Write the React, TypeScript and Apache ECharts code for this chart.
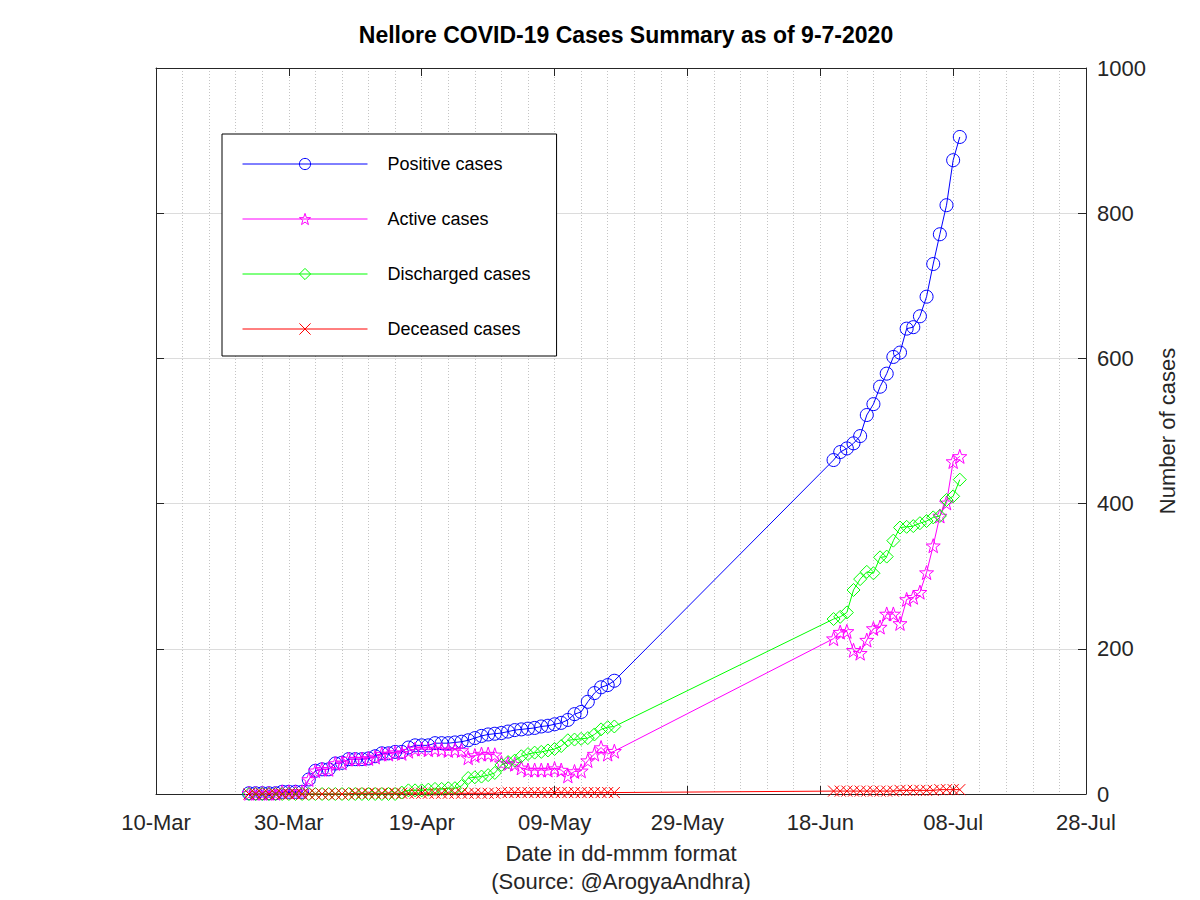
import React, { useEffect, useRef } from "react";
import * as echarts from "echarts";

// ---- Data ----
const dates: string[] = [
  // 24-Mar .. 18-May (daily)
  "2020-03-24", "2020-03-25", "2020-03-26", "2020-03-27", "2020-03-28", "2020-03-29", "2020-03-30", "2020-03-31",
  "2020-04-01", "2020-04-02", "2020-04-03", "2020-04-04", "2020-04-05", "2020-04-06", "2020-04-07", "2020-04-08", "2020-04-09", "2020-04-10",
  "2020-04-11", "2020-04-12", "2020-04-13", "2020-04-14", "2020-04-15", "2020-04-16", "2020-04-17", "2020-04-18", "2020-04-19", "2020-04-20",
  "2020-04-21", "2020-04-22", "2020-04-23", "2020-04-24", "2020-04-25", "2020-04-26", "2020-04-27", "2020-04-28", "2020-04-29", "2020-04-30",
  "2020-05-01", "2020-05-02", "2020-05-03", "2020-05-04", "2020-05-05", "2020-05-06", "2020-05-07", "2020-05-08", "2020-05-09", "2020-05-10",
  "2020-05-11", "2020-05-12", "2020-05-13", "2020-05-14", "2020-05-15", "2020-05-16", "2020-05-17", "2020-05-18",
  // 20-Jun .. 09-Jul (daily)
  "2020-06-20", "2020-06-21", "2020-06-22", "2020-06-23", "2020-06-24", "2020-06-25", "2020-06-26", "2020-06-27", "2020-06-28", "2020-06-29", "2020-06-30",
  "2020-07-01", "2020-07-02", "2020-07-03", "2020-07-04", "2020-07-05", "2020-07-06", "2020-07-07", "2020-07-08", "2020-07-09",
];

const positiveCases: number[] = [
  1, 1, 1, 1, 1, 3, 3, 3,
  3, 20, 32, 34, 34, 42, 43, 48, 48, 48,
  49, 52, 56, 56, 58, 58, 64, 67, 67, 67,
  70, 70, 70, 71, 72, 74, 77, 80, 82, 83,
  84, 86, 88, 89, 90, 91, 93, 94, 96, 98,
  102, 110, 113, 127, 139, 147, 150, 156,
  460, 471, 476, 483, 493, 522, 537, 561, 579, 602, 608,
  641, 643, 658, 685, 730, 771, 811, 873, 905,
];

const activeCases: number[] = [
  1, 1, 1, 1, 1, 3, 3, 3,
  3, 20, 32, 34, 34, 42, 43, 48, 48, 48,
  49, 51, 55, 55, 57, 56, 59, 62, 62, 61,
  62, 61, 60, 61, 60, 50, 53, 55, 55, 54,
  43, 42, 41, 36, 33, 33, 33, 33, 35, 33,
  25, 31, 32, 46, 55, 64, 55, 59,
  214, 223, 224, 198, 194, 212, 228, 230, 248, 248, 235,
  268, 271, 278, 305, 342, 383, 401, 458, 465,
];

const dischargedCases: number[] = [
  0, 0, 0, 0, 0, 0, 0, 0,
  0, 0, 0, 0, 0, 0, 0, 0, 0, 0,
  0, 0, 0, 0, 0, 2, 5, 5, 5, 6,
  7, 7, 8, 8, 11, 22, 23, 24, 26, 29,
  40, 44, 46, 52, 55, 57, 58, 60, 62, 66,
  74, 75, 76, 77, 82, 89, 92, 93,
  241, 244, 250, 281, 296, 306, 304, 326, 327, 349, 367,
  368, 369, 373, 376, 381, 383, 405, 410, 433,
];

const deceasedCases: number[] = [
  0, 0, 0, 0, 0, 0, 0, 0,
  0, 0, 0, 0, 0, 0, 0, 0, 1, 1,
  1, 1, 1, 1, 1, 1, 1, 1, 1, 1,
  1, 1, 1, 1, 1, 1, 1, 1, 1, 1,
  2, 2, 2, 2, 2, 2, 2, 2, 2, 2,
  2, 2, 2, 2, 2, 2, 2, 2,
  4, 4, 4, 4, 4, 4, 4, 4, 4, 4, 5,
  5, 5, 5, 5, 5, 6, 6, 6, 6,
];

const xTickLabels: string[] = ["10-Mar", "30-Mar", "19-Apr", "09-May", "29-May", "18-Jun", "08-Jul", "28-Jul"];
const seriesNames: string[] = ["Positive cases", "Active cases", "Discharged cases", "Deceased cases"];
const seriesColors: string[] = ["#0000ff", "#ff00ff", "#00ff00", "#ff0000"];

// ---- helpers ----
const DAY0 = Date.UTC(2020, 2, 10); // 10-Mar-2020 is axis origin
const dayIndex = (s: string): number => {
  const [y, m, d] = s.split("-").map(Number);
  return Math.round((Date.UTC(y, m - 1, d) - DAY0) / 86400000);
};

const FONT = "Liberation Sans, Arial, Helvetica, sans-serif";
const AXIS_COLOR = "#262626";

const STAR =
  "path://M0,-10L2.35,-3.24L9.51,-3.09L3.8,1.24L5.88,8.09L0,4L-5.88,8.09L-3.8,1.24L-9.51,-3.09L-2.35,-3.24Z";
const CROSS = "path://M0,0L10,10M10,0L0,10";
const symbols: string[] = ["circle", STAR, "diamond", CROSS];
const symbolSizes: number[] = [13, 14, 13, 11];

function makeSeries(i: number, values: number[]) {
  const color = seriesColors[i];
  return {
    type: "line",
    name: seriesNames[i],
    xAxisIndex: 0,
    yAxisIndex: 0,
    data: dates.map((d, k) => [dayIndex(d), values[k]]),
    symbol: symbols[i],
    symbolSize: symbolSizes[i],
    showSymbol: true,
    showAllSymbol: true,
    lineStyle: { color, width: 1 },
    itemStyle: { color: "transparent", borderColor: color, borderWidth: 1 },
    emphasis: { disabled: true },
    silent: true,
  };
}

export default function App() {
  const ref = useRef<HTMLDivElement>(null);

  useEffect(() => {
    if (!ref.current) return;
    const chart = echarts.init(ref.current, undefined, { renderer: "svg" });
    const tickCommon = { show: true, inside: true, length: 8, lineStyle: { color: AXIS_COLOR, width: 1 } };
    const lineCommon = { show: true, onZero: false, lineStyle: { color: AXIS_COLOR, width: 1 } };

    chart.setOption({
      animation: false,
      backgroundColor: "#ffffff",
      title: {
        text: "Nellore COVID-19 Cases Summary as of 9-7-2020",
        left: 621,
        textAlign: "center",
        top: 18,
        textStyle: { fontFamily: FONT, fontSize: 23, fontWeight: "bold", color: "#000" },
      },
      grid: { left: 156, right: 114, top: 68, bottom: 100, containLabel: false },
      legend: {
        orient: "vertical",
        left: 222,
        top: 134,
        itemWidth: 125,
        itemHeight: 14,
        itemGap: 37,
        padding: [21, 26, 18, 20],
        borderColor: "#000",
        borderWidth: 1,
        backgroundColor: "#ffffff",
        data: seriesNames.map((n, i) => ({
          name: n,
          itemStyle: { color: "transparent", borderColor: seriesColors[i], borderWidth: 1 },
          lineStyle: { color: seriesColors[i], width: 1 },
        })),
        textStyle: { fontFamily: FONT, fontSize: 18, color: "#000", padding: [0, 0, 0, 15] },
      },
      xAxis: [
        {
          type: "value",
          position: "bottom",
          min: 0,
          max: 140,
          interval: 20,
          axisLine: lineCommon,
          axisTick: tickCommon,
          minorTick: { show: false, splitNumber: 5 },
          minorSplitLine: { show: true, lineStyle: { color: "#c4c4c4", type: [1, 2], width: 1 } },
          splitLine: { show: true, lineStyle: { color: "#c4c4c4", type: [1, 2], width: 1 } },
          axisLabel: {
            fontFamily: FONT,
            fontSize: 22,
            color: AXIS_COLOR,
            margin: 17,
            formatter: (v: number) => xTickLabels[Math.round(v / 20)] ?? "",
          },
          name: "Date in dd-mmm format\n(Source: @ArogyaAndhra)",
          nameLocation: "middle",
          nameGap: 45,
          nameTextStyle: { fontFamily: FONT, fontSize: 22, color: AXIS_COLOR, lineHeight: 28 },
        },
        {
          type: "value",
          position: "top",
          min: 0,
          max: 140,
          interval: 20,
          axisLine: lineCommon,
          axisTick: tickCommon,
          axisLabel: { show: false },
          splitLine: { show: false },
        },
      ],
      yAxis: [
        {
          type: "value",
          position: "right",
          min: 0,
          max: 1000,
          interval: 200,
          axisLine: lineCommon,
          axisTick: tickCommon,
          splitLine: { show: true, lineStyle: { color: "#dcdcdc", width: 1 } },
          axisLabel: {
            fontFamily: FONT,
            fontSize: 22,
            color: AXIS_COLOR,
            margin: 11,
            formatter: (v: number) => String(v),
          },
          name: "Number of cases",
          nameLocation: "middle",
          nameGap: 68,
          nameRotate: 90,
          nameTextStyle: { fontFamily: FONT, fontSize: 22, color: AXIS_COLOR },
        },
        {
          type: "value",
          position: "left",
          min: 0,
          max: 1000,
          interval: 200,
          axisLine: lineCommon,
          axisTick: tickCommon,
          axisLabel: { show: false },
          splitLine: { show: false },
        },
      ],
      series: [
        makeSeries(0, positiveCases),
        makeSeries(1, activeCases),
        makeSeries(2, dischargedCases),
        makeSeries(3, deceasedCases),
      ],
    });

    return () => chart.dispose();
  }, []);

  return (
    <div
      ref={ref}
      style={{ position: "fixed", left: 0, top: 0, width: 1200, height: 900, background: "#fff" }}
    />
  );
}
